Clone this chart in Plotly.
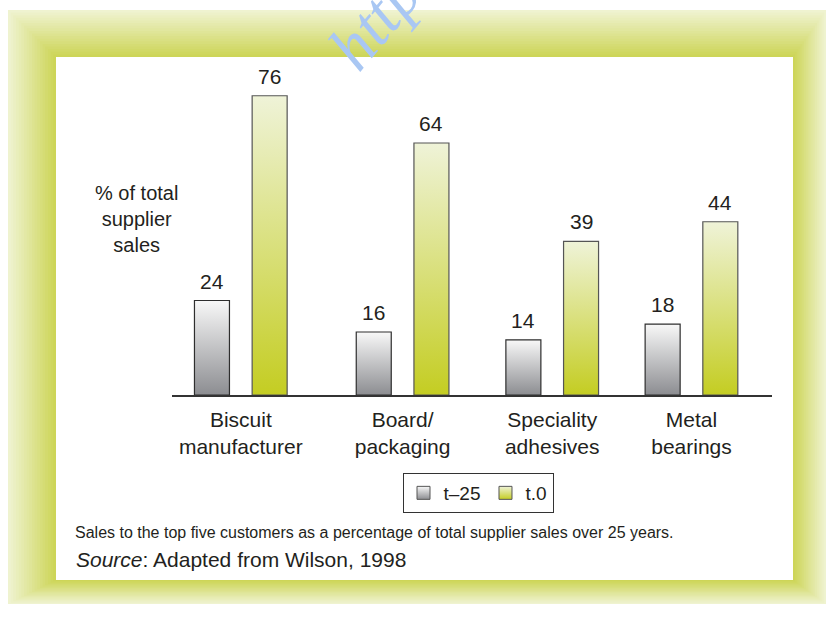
import plotly.graph_objects as go

# ---------------- data ----------------
categories = ["Biscuit<br>manufacturer", "Board/<br>packaging", "Speciality<br>adhesives", "Metal<br>bearings"]
series_names = ["t–25", "t.0"]
values_t25 = [24, 16, 14, 18]
values_t0 = [76, 64, 39, 44]
y_title_lines = ["% of total", "supplier", "sales"]
note_text = "Sales to the top five customers as a percentage of total supplier sales over 25 years."
source_text = "<i>Source</i>: Adapted from Wilson, 1998"

# ---------------- layout constants ----------------
W, H = 826, 620
ML, MR, MT, MB = 172, 54, 80, 225
PW, PH = W - ML - MR, H - MT - MB
GROUP_POS = [0.0, 1.077, 2.073, 3.0]
BAR_OFFSET = [-0.192, 0.192]
BAR_W = 0.233
X_RANGE = [-0.458, 3.536]
Y_RANGE = [0, 80]
FONT = "Liberation Sans, Arial, Helvetica, sans-serif"
TXT = "#231f20"
GRAD = [("#8c8d91", "#f8f8f8"), ("#c4cd22", "#eff3d8")]  # (bottom, top)
EDGE = ["#2e2e2e", "#555555"]


def px_x(px):
    return (px - ML) / PW


def px_y(py):
    return (H - MB - py) / PH


fig = go.Figure()

series_vals = [values_t25, values_t0]
for s, vals in enumerate(series_vals):
    bot, top = GRAD[s]
    for i, v in enumerate(vals):
        c = GROUP_POS[i] + BAR_OFFSET[s]
        x0, x1 = c - BAR_W / 2, c + BAR_W / 2
        fig.add_trace(go.Scatter(
            x=[x0, x1, x1, x0, x0], y=[0, 0, v, v, 0],
            mode="lines", fill="toself",
            fillgradient=dict(type="vertical", colorscale=[[0, bot], [1, top]]),
            line=dict(color=EDGE[s], width=1.2),
            showlegend=False, hoverinfo="skip",
        ))
        fig.add_annotation(x=c, y=v, text=str(v), showarrow=False,
                           yanchor="bottom", yshift=6,
                           font=dict(family=FONT, size=21, color=TXT))

# legend entries
for s, name in enumerate(series_names):
    bot, top = GRAD[s]
    fig.add_trace(go.Scatter(
        x=[None], y=[None], mode="markers", name=name,
        marker=dict(symbol="square", size=13, color=top,
                    gradient=dict(type="vertical", color=bot),
                    line=dict(color="#555", width=1)),
    ))

# ----- frame (bevelled green border) -----
shapes = []
outer = (8, 10, 826, 604)
inner = (56, 57, 793, 580)
N = 18
c_out = (239, 243, 208)
c_in = (205, 213, 88)
for k in range(N):
    t = k / (N - 1)
    bx0 = outer[0] + (inner[0] - outer[0]) * k / N
    by0 = outer[1] + (inner[1] - outer[1]) * k / N
    bx1 = outer[2] + (inner[2] - outer[2]) * k / N
    by1 = outer[3] + (inner[3] - outer[3]) * k / N
    col = "rgb(%d,%d,%d)" % tuple(round(a + (b - a) * t) for a, b in zip(c_out, c_in))
    shapes.append(dict(type="rect", xref="paper", yref="paper", layer="below",
                       x0=px_x(bx0), x1=px_x(bx1), y0=px_y(by1), y1=px_y(by0),
                       line=dict(width=0), fillcolor=col))
shapes.append(dict(type="rect", xref="paper", yref="paper", layer="below",
                   x0=px_x(inner[0]), x1=px_x(inner[2]), y0=px_y(inner[3]), y1=px_y(inner[1]),
                   line=dict(width=0), fillcolor="white"))

# y title
fig.add_annotation(xref="paper", yref="paper", x=px_x(136), y=px_y(219),
                   text="<br>".join(y_title_lines), showarrow=False,
                   xanchor="center", yanchor="middle", align="center",
                   font=dict(family=FONT, size=20, color=TXT))
# footnotes
fig.add_annotation(xref="paper", yref="paper", x=px_x(73), y=px_y(532),
                   text=note_text, showarrow=False, xanchor="left", yanchor="middle",
                   font=dict(family=FONT, size=16, color=TXT))
fig.add_annotation(xref="paper", yref="paper", x=px_x(74), y=px_y(559),
                   text=source_text, showarrow=False, xanchor="left", yanchor="middle",
                   font=dict(family=FONT, size=21, color=TXT))
# watermark
fig.add_annotation(xref="paper", yref="paper", x=px_x(374), y=px_y(20),
                   text="<i>http</i>", showarrow=False, textangle=-50,
                   xanchor="center", yanchor="middle",
                   font=dict(family="Liberation Serif, Times New Roman, serif", size=66, color="#a9c7f3"))

fig.update_layout(
    width=W, height=H,
    margin=dict(l=ML, r=MR, t=MT, b=MB, autoexpand=False),
    paper_bgcolor="white", plot_bgcolor="rgba(0,0,0,0)",
    shapes=shapes,
    showlegend=True,
    legend=dict(orientation="h", x=px_x(478), y=px_y(473), xanchor="center", yanchor="top",
                bordercolor="#333", borderwidth=1, bgcolor="white",
                font=dict(family=FONT, size=19, color=TXT), itemwidth=30,
                traceorder="normal"),
    xaxis=dict(range=X_RANGE, tickvals=GROUP_POS, ticktext=categories,
               showline=True, linecolor="#333", linewidth=1.5, ticks="",
               ticklabelstandoff=5,
               showgrid=False, zeroline=False, fixedrange=True,
               tickfont=dict(family=FONT, size=21, color=TXT)),
    yaxis=dict(range=Y_RANGE, visible=False, showgrid=False, zeroline=False, fixedrange=True),
)

fig.write_html("out.html", config={"displayModeBar": False, "staticPlot": True},
               post_script="document.body.style.margin='0px';document.body.style.overflow='hidden';")
